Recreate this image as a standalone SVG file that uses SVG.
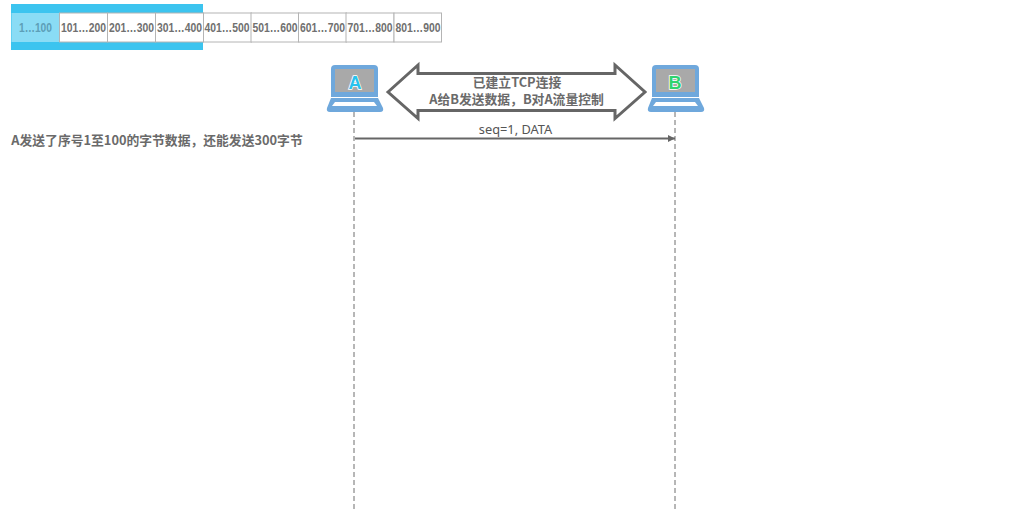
<svg xmlns="http://www.w3.org/2000/svg" width="1011" height="509" viewBox="0 0 1011 509">
<style>
text{font-family:"Liberation Sans","Noto Sans CJK SC",sans-serif;fill:#6e6e6e;text-anchor:middle}
.cell{fill:#fff;stroke:#b4b4b4;stroke-width:1}
.num{font-size:12px;font-weight:700;fill:#707070}
.cjk{font-family:"Noto Sans CJK SC",sans-serif;font-size:12.800px;font-weight:700;fill:#6a6a6a}
.life{stroke:#6f6f6f;stroke-width:1;stroke-dasharray:5 3;fill:none}
.body{fill:#6fa8dc}
.screen{fill:#a9a9a9}
</style>
<defs>
<marker id="ah" markerUnits="userSpaceOnUse" markerWidth="8" markerHeight="8" refX="7" refY="3.500" orient="auto"><path d="M0 0L7 3.500L0 7z" fill="#666"/></marker>
</defs>
<g id="window">
<rect x="11" y="4" width="192" height="46" fill="#3cc4ef"/>
<rect x="11.500" y="13" width="48" height="29" fill="#8adcf5"/>
<rect class="cell" x="59.500" y="13" width="48" height="29"/>
<rect class="cell" x="107.500" y="13" width="48" height="29"/>
<rect class="cell" x="155.500" y="13" width="48" height="29"/>
<rect class="cell" x="203.500" y="13" width="48" height="29"/>
<rect class="cell" x="251" y="13" width="48" height="29"/>
<rect class="cell" x="298.500" y="13" width="48" height="29"/>
<rect class="cell" x="346" y="13" width="48" height="29"/>
<rect class="cell" x="394" y="13" width="47.500" height="29"/>
<text class="num" x="35.500" y="32" textLength="33" lengthAdjust="spacingAndGlyphs" style="fill:#5d9fb8">1…100</text>
<text class="num" x="83.500" y="32" textLength="45" lengthAdjust="spacingAndGlyphs">101…200</text>
<text class="num" x="131.500" y="32" textLength="45" lengthAdjust="spacingAndGlyphs">201…300</text>
<text class="num" x="179.500" y="32" textLength="45" lengthAdjust="spacingAndGlyphs">301…400</text>
<text class="num" x="227" y="32" textLength="45" lengthAdjust="spacingAndGlyphs">401…500</text>
<text class="num" x="275" y="32" textLength="45" lengthAdjust="spacingAndGlyphs">501…600</text>
<text class="num" x="322.500" y="32" textLength="45" lengthAdjust="spacingAndGlyphs">601…700</text>
<text class="num" x="370" y="32" textLength="45" lengthAdjust="spacingAndGlyphs">701…800</text>
<text class="num" x="418" y="32" textLength="45" lengthAdjust="spacingAndGlyphs">801…900</text>
</g>
<g id="connectors">
<line class="life" x1="354" y1="112" x2="354" y2="509"/>
<line class="life" x1="675" y1="112" x2="675" y2="509"/>
<line x1="355" y1="138.500" x2="675" y2="138.500" stroke="#666" stroke-width="2" marker-end="url(#ah)"/>
<text x="515.500" y="134" style="font-size:12.800px;font-family:'Noto Sans','Noto Sans CJK SC',sans-serif;fill:#555">seq=1, DATA</text>
</g>
<g id="host-a">
<path class="body" d="M331 69q0-4 4-4h39q4 0 4 4v28h-47z"/>
<rect class="screen" x="335" y="69" width="39" height="23"/>
<path class="body" d="M331 98h47l5 10q1 4-3 4h-50q-4 0-3-4z"/>
<path d="M335 102h39l3 4h-45z" fill="#fff"/>
<text x="355" y="88.500" style="font-size:18px;font-weight:700;fill:#29c2ee;stroke:#fff;stroke-width:1.500;paint-order:stroke">A</text>
</g>
<g id="host-b">
<path class="body" d="M652 69q0-4 4-4h39q4 0 4 4v28h-47z"/>
<rect class="screen" x="656" y="69" width="39" height="23"/>
<path class="body" d="M652 98h47l5 10q1 4-3 4h-50q-4 0-3-4z"/>
<path d="M656 102h39l3 4h-45z" fill="#fff"/>
<text x="675" y="88.500" style="font-size:18px;font-weight:700;fill:#2fd36f;stroke:#fff;stroke-width:1.500;paint-order:stroke">B</text>
</g>
<g id="tcp-link">
<path d="M388 92L418 65V73.500H615V65L645 92L615 118.500V110.500H418V118.500z" fill="#fff" stroke="#666" stroke-width="3"/>
<text class="cjk" x="517" y="87">已建立TCP连接</text>
<text class="cjk" x="516.500" y="104">A给B发送数据，B对A流量控制</text>
</g>
<g id="note">
<text class="cjk" x="157" y="144.500">A发送了序号1至100的字节数据，还能发送300字节</text>
</g>
</svg>
